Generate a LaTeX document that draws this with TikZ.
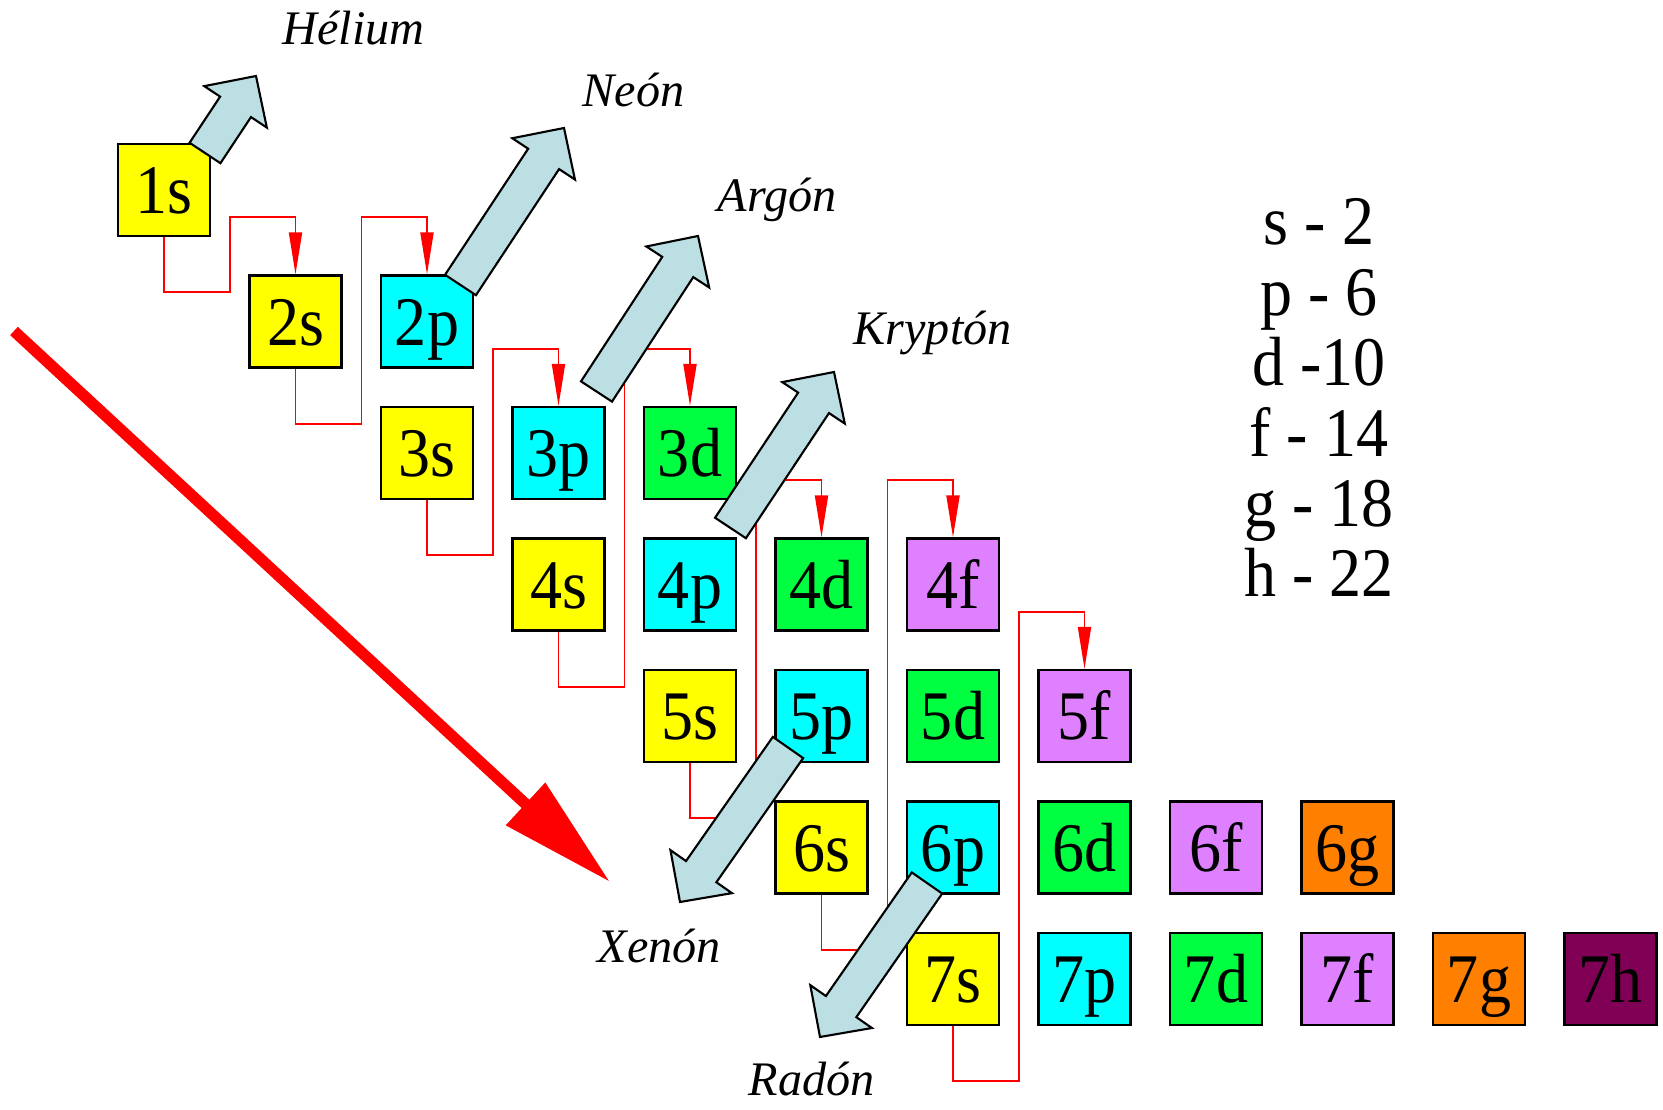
\documentclass[tikz,border=0pt]{standalone}
\usepackage{fontspec}
\setmainfont{Liberation Serif}
\newfontfamily\orbfont{Liberation Serif}[FakeStretch=0.92]
\usepackage{tikz}
\usetikzlibrary{arrows.meta,calc}
\usepackage{xcolor}
\definecolor{orbS}{HTML}{FFFF00}
\definecolor{orbP}{HTML}{00FFFF}
\definecolor{orbD}{HTML}{00FF40}
\definecolor{orbF}{HTML}{DF80FF}
\definecolor{orbG}{HTML}{FF8000}
\definecolor{orbH}{HTML}{7F0055}
\definecolor{gasblue}{HTML}{BBDFE3}

% block arrow from tail #1 to tip #2
\newcommand{\gasarrow}[2]{%
  \coordinate (head) at ($(#2)!0.37cm!(#1)$);
  \draw[gasarr] ($(#1)!0.185cm!90:(#2)$) -- ($(head)!0.185cm!90:(#2)$)
    -- ($(head)!0.375cm!90:(#2)$) -- (#2) -- ($(head)!0.375cm!-90:(#2)$)
    -- ($(head)!0.185cm!-90:(#2)$) -- ($(#1)!0.185cm!-90:(#2)$) -- cycle;}

\begin{document}
\begin{tikzpicture}[x=0.01cm,y=-0.01cm,
  orb/.style={draw=black, line width=0.6pt, minimum size=0.92cm, inner sep=0pt,
    text height=0.47cm, text depth=0pt, font=\orbfont\fontsize{19.8}{20}\selectfont},
  link/.style={draw=red, line width=0.55pt, -{Triangle[length=0.42cm,width=0.13cm]}},
  gasarr/.style={draw=black, line width=0.6pt, fill=gasblue, line join=miter},
  gas/.style={font=\itshape\fontsize{13.7}{16}\selectfont, anchor=base west, inner sep=0pt},
  legend/.style={font=\orbfont\fontsize{19.8}{20}\selectfont, anchor=base, inner sep=0pt}]
  \useasboundingbox (0,0) rectangle (1663,1110);
  % orbital boxes: name/column/row/colour
  \foreach \name/\c/\r/\col in {1s/0/0/orbS, 2s/1/1/orbS, 2p/2/1/orbP,
      3s/2/2/orbS, 3p/3/2/orbP, 3d/4/2/orbD,
      4s/3/3/orbS, 4p/4/3/orbP, 4d/5/3/orbD, 4f/6/3/orbF,
      5s/4/4/orbS, 5p/5/4/orbP, 5d/6/4/orbD, 5f/7/4/orbF,
      6s/5/5/orbS, 6p/6/5/orbP, 6d/7/5/orbD, 6f/8/5/orbF, 6g/9/5/orbG,
      7s/6/6/orbS, 7p/7/6/orbP, 7d/8/6/orbD, 7f/9/6/orbF, 7g/10/6/orbG, 7h/11/6/orbH}
    \node[orb, fill=\col] (o\name) at ({164+131.5*\c},{190+131.5*\r}) {\name};
  % filling order
  \foreach \a/\b in {1s/2s, 2s/2p, 3s/3p, 4s/3d, 5s/4d, 6s/4f, 7s/5f}
    \draw[link] (o\a.south) -- ++(0,55) -- ++(66,0) |- ([yshift=0.57cm]o\b.north) -- (o\b.north);
  % noble gases
  \coordinate (heTail) at (205,153);   \coordinate (heTip) at (256,76);
  \coordinate (neTail) at (460.5,285); \coordinate (neTip) at (564,128);
  \coordinate (arTail) at (596.5,391.5); \coordinate (arTip) at (698,236);
  \coordinate (krTail) at (730.5,528); \coordinate (krTip) at (834,372);
  \coordinate (xeTail) at (788,747.5); \coordinate (xeTip) at (680,902);
  \coordinate (rnTail) at (927,883);   \coordinate (rnTip) at (820,1037);
  \foreach \g in {he,ne,ar,kr,xe,rn} \gasarrow{\g Tail}{\g Tip};
  \node[gas] (he) at (282,45) {Hélium};
  \node[gas] (ne) at (582,107) {Neón};
  \node[gas] (ar) at (717,212) {Argón};
  \node[gas] (kr) at (853,345) {Kryptón};
  \node[gas] (xe) at (597,962) {Xenón};
  \node[gas] (rn) at (748,1095) {Radón};
  % capacities
  \foreach \txt [count=\i from 0] in {s - 2, p - 6, d -10, f - 14, g - 18, h - 22}
    \node[legend] (cap\i) at (1319,{245+70.4*\i}) {\txt};
  % big red arrow
  \coordinate (redTail) at (14,331);
  \coordinate (redTip) at (610,882);
  \draw[red, line width=0.113cm, -{Triangle[length=1.15cm,width=0.55cm]}] (redTail) -- (redTip);
\end{tikzpicture}
\end{document}
